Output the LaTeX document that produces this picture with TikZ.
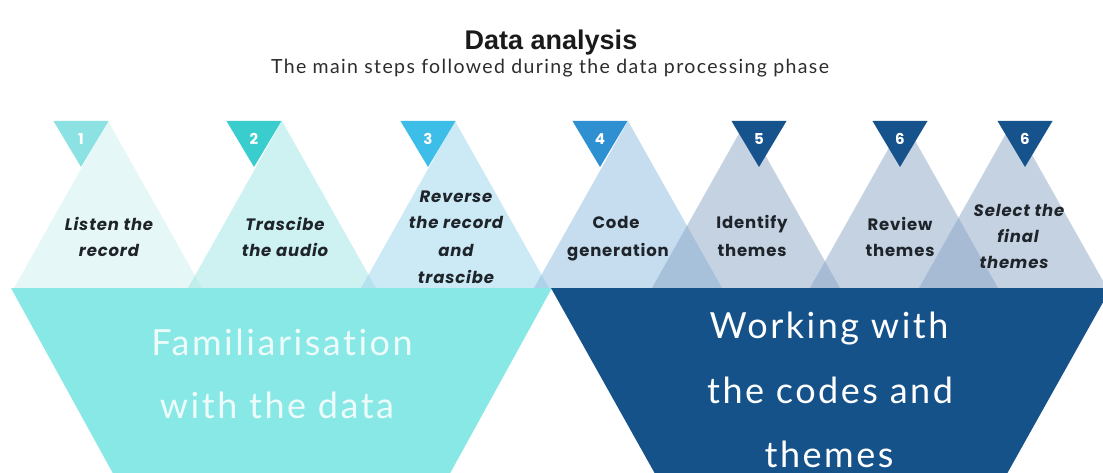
\documentclass[tikz,border=0pt]{standalone}
\usepackage{fontspec}
\setmainfont{Liberation Sans}
\newfontfamily\stepfont{Poppins}[LetterSpace=5]
\newfontfamily\numfont{Poppins}
\newfontfamily\bigfont{Lato}[LetterSpace=7,Ligatures=NoCommon]
\newfontfamily\headfont{Liberation Sans}
\newfontfamily\subfont{Lato}[LetterSpace=7]
\definecolor{b1}{RGB}{207,241,241}
\definecolor{b2}{RGB}{159,229,229}
\definecolor{b3}{RGB}{155,215,239}
\definecolor{b4}{RGB}{141,189,223}
\definecolor{b5}{RGB}{139,167,199}
\definecolor{s1}{RGB}{140,226,226}
\definecolor{s2}{RGB}{58,205,205}
\definecolor{s3}{RGB}{60,190,232}
\definecolor{s4}{RGB}{46,143,209}
\definecolor{s5}{RGB}{22,82,139}
\definecolor{cyanband}{RGB}{135,232,230}
\definecolor{darkband}{RGB}{21,82,138}
\definecolor{labelc}{RGB}{30,36,42}
\definecolor{titlec}{RGB}{26,26,26}
\definecolor{subc}{RGB}{45,45,45}
\begin{document}
\begin{tikzpicture}[x=1pt,y=-1pt,
  bigtri/.style={fill opacity=0.5},
  steplbl/.style={anchor=base, inner sep=0pt, text=labelc, font=\stepfont\bfseries\itshape\fontsize{16.5}{19}\selectfont},
  steplblup/.style={anchor=base, inner sep=0pt, text=labelc, font=\stepfont\bfseries\fontsize{16.5}{19}\selectfont},
  numlbl/.style={anchor=base, inner sep=0pt, text=white, font=\numfont\bfseries\fontsize{15}{17}\selectfont},
  biglbl/.style={anchor=base, inner sep=0pt, font=\bigfont\fontsize{36}{40}\selectfont},
]
\useasboundingbox (0,0) rectangle (1103,473);
\clip (0,0) rectangle (1103,473);
\fill[white] (0,0) rectangle (1103,473);

% title
\node[anchor=base, inner sep=0pt, text=titlec, font=\headfont\bfseries\fontsize{27}{30}\selectfont] (title) at (551,50) {Data analysis};
\node[anchor=base, inner sep=0pt, text=subc, font=\subfont\fontsize{19.5}{23}\selectfont] (subtitle) at (550,74) {The main steps followed during the data processing phase};

% large translucent triangles
\foreach \c/\col in {108/b1, 282/b2, 455/b3, 628/b4, 746/b5, 904/b5, 1013/b5}
  \fill[bigtri, fill=\col] (\c,121) -- (\c-94,288) -- (\c+94,288) -- cycle;

% small inverted triangles
\foreach \c/\col in {81/s1, 254/s2, 428/s3, 600/s4, 759/s5, 900/s5, 1025/s5}
  \fill[fill=\col] (\c-27.5,121) -- (\c+27.5,121) -- (\c,167) -- cycle;

\node[numlbl] (n1) at (81,145) {1};
\node[numlbl] (n2) at (254,145) {2};
\node[numlbl] (n3) at (428,145) {3};
\node[numlbl] (n4) at (600,145) {4};
\node[numlbl] (n5) at (759,145) {5};
\node[numlbl] (n6) at (900,145) {6};
\node[numlbl] (n7) at (1025,145) {6};

% step labels
\node[steplbl] (l1a) at (109,230) {Listen the};
\node[steplbl] (l1b) at (109,257) {record};
\node[steplbl] (l2a) at (285,230) {Trascibe};
\node[steplbl] (l2b) at (285,257) {the audio};
\node[steplbl] (l3a) at (456,203) {Reverse};
\node[steplbl] (l3b) at (456,229) {the record};
\node[steplbl] (l3c) at (456,256) {and};
\node[steplbl] (l3d) at (456,283) {trascibe};
\node[steplblup] (l4a) at (616,229) {Code};
\node[steplblup] (l4b) at (618,257) {generation};
\node[steplblup] (l5a) at (752,229) {Identify};
\node[steplblup] (l5b) at (752,257) {themes};
\node[steplblup] (l6a) at (900,230) {Review};
\node[steplblup] (l6b) at (900,257) {themes};
\node[steplbl] (l7a) at (1019,217) {Select the};
\node[steplbl] (l7b) at (1018,243) {final};
\node[steplbl] (l7c) at (1014,268) {themes};

% bottom funnels
\fill[cyanband] (11,288) -- (552,288) -- (442,488) -- (121,488) -- cycle;
\fill[darkband] (551,288) -- (1111,288) -- (999,488) -- (663,488) -- cycle;

\node[biglbl, text=white, opacity=0.85] (f1) at (282,355) {Familiarisation};
\node[biglbl, text=white, opacity=0.85] (f2) at (277,418) {with the data};
\node[biglbl, text=white] (w1) at (829,338) {Working with};
\node[biglbl, text=white] (w2) at (830,403) {the codes and};
\node[biglbl, text=white] (w3) at (829,467) {themes};
\end{tikzpicture}
\end{document}
